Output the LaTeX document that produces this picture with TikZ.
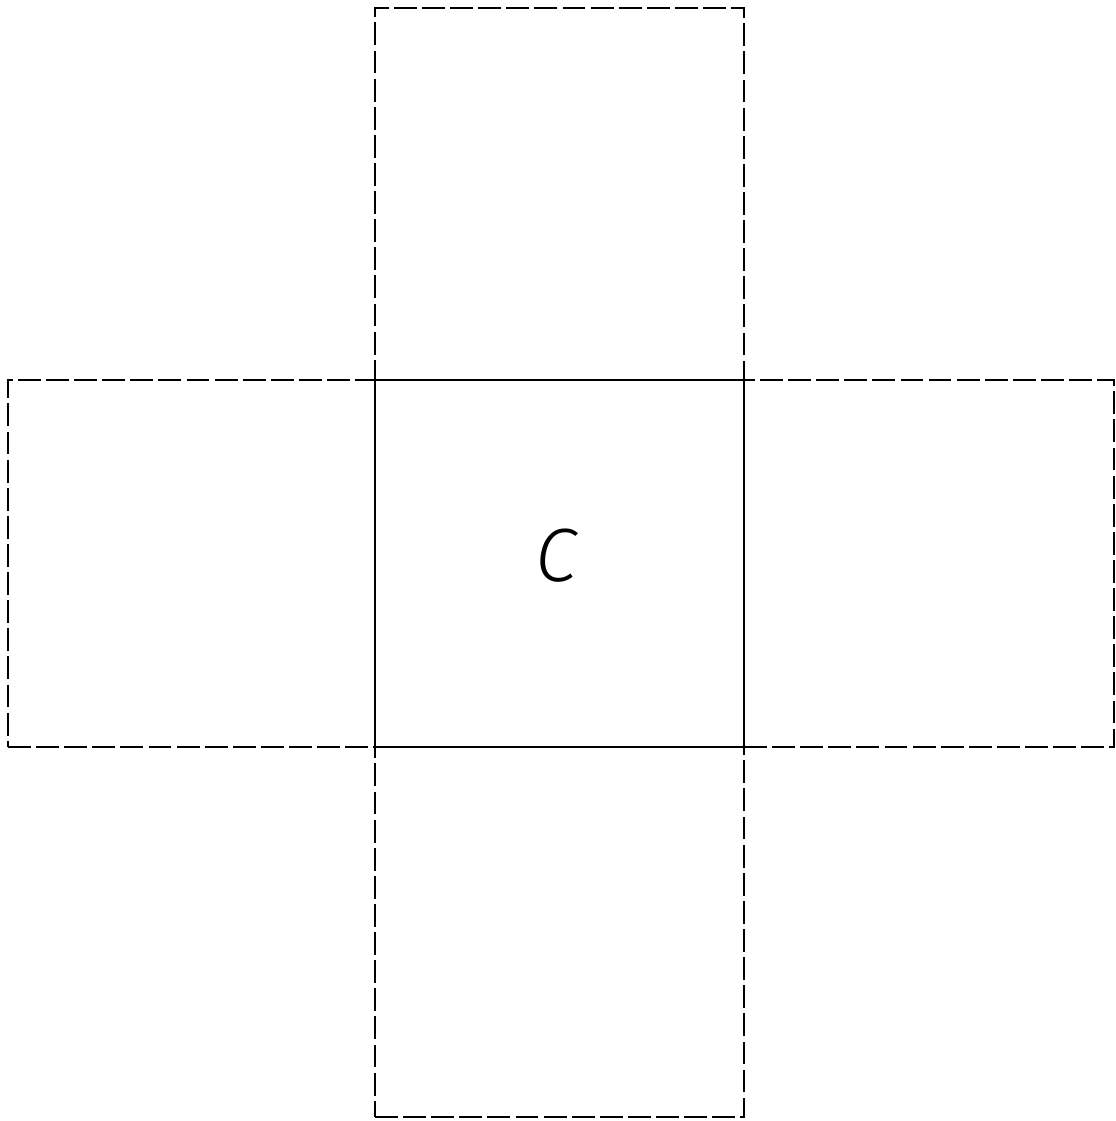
\documentclass[tikz,border=0pt]{standalone}
\usepackage{fontspec}
\newfontfamily\lightsf{Fira Sans}[UprightFont=* Light, ItalicFont=* Light Italic]
\begin{document}
\begin{tikzpicture}[x=0.02cm,y=-0.02cm,
  cell/.style={rectangle,draw=black,line width=1.4pt,inner sep=0pt,outer sep=0pt},
  ghost/.style={cell,dash pattern=on 13pt off 3pt}]
\useasboundingbox (0,0) rectangle (1115,1121);
\node[ghost,minimum width=369*0.02cm,minimum height=372*0.02cm] (top) at (559.5,194) {};
\node[ghost,minimum width=369*0.02cm,minimum height=370*0.02cm] (bottom) at (559.5,932) {};
\node[ghost,minimum width=367*0.02cm,minimum height=367*0.02cm] (left) at (191.5,563.5) {};
\node[ghost,minimum width=370*0.02cm,minimum height=367*0.02cm] (right) at (929,563.5) {};
\node[cell,minimum width=369*0.02cm,minimum height=367*0.02cm] (center) at (559.5,563.5) {};
\node[inner sep=0pt] (lab) at (556.5,555.5) {\fontsize{43}{50}\selectfont\lightsf\itshape C};
\end{tikzpicture}
\end{document}
